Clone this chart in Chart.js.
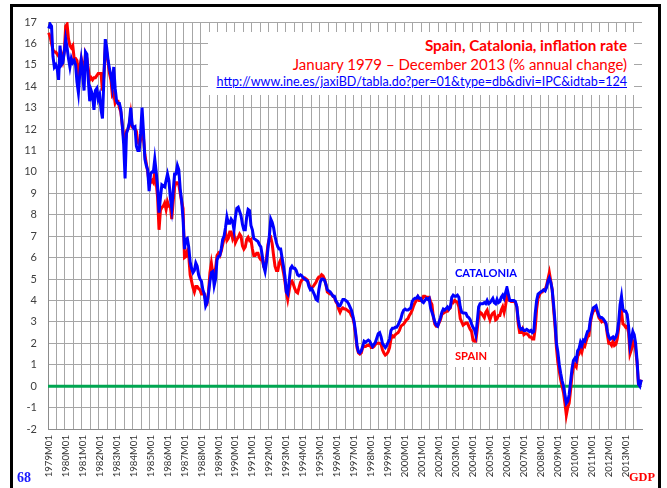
<!DOCTYPE html>
<html>
<head>
<meta charset="utf-8">
<title>Spain, Catalonia, inflation rate</title>
<script src="https://cdn.jsdelivr.net/npm/chart.js@4.4.1/dist/chart.umd.min.js"></script>
<style>
  html, body { margin: 0; padding: 0; background: #fff; }
  #page { position: relative; width: 667px; height: 488px; overflow: hidden; background: #fff; }
  #grafica { position: absolute; left: 0; top: 0; }
  #marco { position: absolute; left: 10px; top: 4px; width: 645px; height: 520px; border: 3px solid #000; }
  .caja { position: absolute; background: #fff; }
  .txt { position: absolute; top: 0; left: 0; white-space: nowrap; line-height: 1; font-family: Lato, "Open Sans", sans-serif; }
  .serif { font-family: "Liberation Serif", "DejaVu Serif", serif; font-weight: 700; }
</style>
</head>
<body>
<div id="page">
  <canvas id="grafica" width="667" height="488"></canvas>
  <div id="marco"></div>

  <!-- cuadro del titulo y etiquetas de las series -->
  <div class="caja" style="left:208px;top:32px;width:426px;height:63px"></div>
  <div class="caja" style="left:448px;top:263px;width:75px;height:23px"></div>
  <div class="caja" style="left:448px;top:347px;width:46px;height:20px"></div>

  <div class="txt" data-right="627" data-base="51" data-width="202" style="font-size:16px;font-weight:700;color:#ff0000">Spain, Catalonia, inflation rate</div>
  <div class="txt" data-right="627" data-base="70" data-width="334" style="font-size:16px;color:#ff0000">January 1979 – December 2013 (% annual change)</div>
  <div class="txt" data-right="627" data-base="86" data-width="410" style="font-size:13px;color:#0000ff;text-decoration:underline">http://www.ine.es/jaxiBD/tabla.do?per=01&amp;type=db&amp;divi=IPC&amp;idtab=124</div>
  <div class="txt" data-left="455" data-base="277" data-width="62" style="font-size:12px;font-weight:700;color:#0000ff">CATALONIA</div>
  <div class="txt" data-left="455" data-base="360" data-width="32" style="font-size:12px;font-weight:700;color:#ff0000">SPAIN</div>
  <div class="txt serif" data-left="17" data-base="482" data-width="14" style="font-size:11px;color:#1a1aff">68</div>
  <div class="txt serif" data-left="629" data-base="481" data-width="26" style="font-size:11px;color:#ff0000">GDP</div>
</div>

<script>
// IPC, tasa de variacion anual (%), enero 1979 - diciembre 2013
const firstYear = 1979;
const lastYear = 2013;

// Espana, un renglon por anio (ene..dic)
const spain = [
  16.5, 16.3, 16.0, 15.7, 15.6, 15.6, 15.5, 15.4, 15.3, 15.5, 15.2, 15.6,   // 1979
  16.8, 16.9, 16.2, 15.9, 15.8, 15.9, 15.3, 15.3, 15.2, 14.6, 14.9, 15.3,   // 1980
  15.0, 14.6, 15.5, 15.3, 14.8, 14.3, 14.4, 14.3, 14.4, 14.4, 14.5, 14.6,   // 1981
  14.6, 14.6, 13.8, 14.5, 15.8, 15.6, 15.1, 14.6, 14.3, 13.6, 13.7, 13.2,   // 1982
  13.3, 13.3, 13.0, 12.8, 12.2, 11.6, 11.3, 11.9, 12.0, 12.2, 12.7, 12.1,   // 1983
  12.1, 12.0, 11.9, 11.4, 11.3, 11.5, 12.0, 11.6, 10.8, 10.4, 10.0, 9.5,    // 1984
  9.5, 9.6, 9.5, 10.0, 9.5, 8.8, 7.3, 8.2, 8.35, 8.4, 8.55, 8.25,           // 1985
  8.6, 8.4, 8.4, 7.8, 8.6, 9.3, 9.5, 9.5, 9.4, 9.0, 8.6, 8.3,               // 1986
  6.0, 6.05, 6.3, 6.1, 5.2, 4.9, 4.6, 4.4, 4.65, 4.65, 4.55, 4.5,           // 1987
  4.3, 4.3, 4.3, 4.0, 3.9, 4.4, 5.3, 5.75, 5.3, 5.2, 5.5, 6.1,              // 1988
  6.2, 6.1, 6.3, 6.6, 6.9, 7.2, 6.8, 6.9, 7.2, 7.2, 6.9, 7.1,               // 1989
  6.7, 6.85, 6.95, 7.1, 7.0, 6.55, 6.4, 6.5, 6.85, 6.95, 6.8, 6.85,         // 1990
  6.4, 6.1, 6.1, 6.2, 6.2, 6.0, 5.9, 5.9, 5.6, 5.6, 6.0, 6.6,               // 1991
  6.9, 6.95, 6.65, 6.1, 5.6, 5.4, 5.4, 5.75, 5.9, 5.65, 5.3, 4.9,          // 1992
  4.4, 4.05, 4.45, 4.85, 4.9, 4.75, 4.55, 4.4, 4.35, 4.6, 4.85, 4.95,       // 1993
  5.0, 5.05, 5.0, 4.95, 4.75, 4.6, 4.6, 4.65, 4.75, 4.85, 5.0, 5.1,         // 1994
  5.1, 5.2, 5.15, 5.0, 4.75, 4.4, 4.35, 4.3, 4.3, 4.2, 4.15, 3.95,          // 1995
  3.85, 3.6, 3.45, 3.6, 3.65, 3.6, 3.6, 3.55, 3.5, 3.45, 3.3, 3.2,          // 1996
  2.9, 2.4, 1.8, 1.55, 1.5, 1.55, 1.8, 1.85, 1.85, 1.9, 1.9, 1.95,          // 1997
  1.8, 1.8, 1.85, 1.95, 2.0, 2.0, 2.0, 1.95, 1.7, 1.55, 1.45, 1.5,          // 1998
  1.6, 1.8, 2.2, 2.35, 2.3, 2.4, 2.45, 2.5, 2.6, 2.8, 2.85, 2.9,            // 1999
  3.0, 3.1, 3.15, 3.3, 3.4, 3.55, 3.75, 3.9, 4.0, 4.15, 4.0, 4.0,           // 2000
  4.05, 4.2, 4.2, 4.15, 4.15, 4.15, 3.95, 3.8, 3.2, 2.9, 2.8, 2.8,          // 2001
  2.95, 3.1, 3.35, 3.4, 3.45, 3.5, 3.5, 3.6, 3.65, 3.95, 3.9, 4.0,          // 2002
  3.95, 3.9, 3.7, 3.15, 3.0, 2.85, 2.9, 2.95, 2.95, 2.8, 2.65, 2.55,        // 2003
  2.15, 2.1, 2.1, 2.65, 3.25, 3.45, 3.4, 3.3, 3.2, 3.45, 3.55, 3.3,         // 2004
  3.1, 3.3, 3.4, 3.45, 3.1, 3.15, 3.3, 3.3, 3.55, 3.7, 3.45, 3.75,          // 2005
  4.2, 4.05, 4.0, 3.95, 3.95, 3.95, 3.9, 3.7, 2.9, 2.5, 2.5, 2.65,          // 2006
  2.4, 2.45, 2.45, 2.4, 2.3, 2.3, 2.2, 2.2, 2.7, 3.6, 4.1, 4.25,            // 2007
  4.4, 4.4, 4.5, 4.5, 4.7, 5.0, 5.3, 4.9, 4.5, 3.6, 2.8, 1.8,               // 2008
  1.1, 0.7, 0.3, 0.0, -0.3, -0.8, -1.35, -1.0, -0.8, -0.2, 0.5, 0.9,        // 2009
  1.0, 0.9, 1.4, 1.5, 1.8, 1.6, 1.9, 1.85, 2.1, 2.3, 2.35, 2.95,            // 2010
  3.3, 3.5, 3.55, 3.6, 3.45, 3.2, 3.1, 3.0, 3.05, 3.0, 2.9, 2.4,            // 2011
  2.0, 2.0, 1.9, 2.1, 1.9, 1.95, 2.2, 2.7, 3.4, 3.5, 2.9, 2.85,             // 2012
  2.75, 2.8, 2.5, 1.5, 1.7, 2.1, 2.0, 1.7, 1.1, 0.1, 0.1, 0.3               // 2013
];

// Cataluna
const catalonia = [
  16.7, 16.9, 16.8, 15.4, 14.9, 15.0, 14.8, 14.3, 15.9, 15.0, 15.1, 15.6,   // 1979
  16.2, 15.8, 15.3, 14.9, 15.3, 15.1, 15.2, 15.0, 14.2, 13.7, 14.6, 15.2,   // 1980
  14.6, 13.8, 15.6, 15.5, 14.3, 13.3, 13.8, 13.6, 12.9, 13.8, 13.9, 13.4,   // 1981
  13.6, 12.9, 12.5, 14.3, 16.2, 15.8, 15.2, 14.8, 14.5, 14.0, 14.9, 13.9,   // 1982
  13.3, 13.2, 13.2, 12.9, 12.2, 11.3, 9.7, 11.8, 12.0, 12.3, 13.0, 12.2,    // 1983
  12.05, 12.1, 11.2, 11.0, 11.0, 11.8, 13.0, 11.9, 10.6, 10.3, 10.1, 9.1,   // 1984
  9.9, 10.0, 10.0, 10.6, 10.0, 9.3, 8.1, 8.8, 9.4, 9.35, 9.3, 9.6,          // 1985
  9.9, 9.6, 8.8, 8.3, 9.1, 9.9, 9.9, 10.3, 10.1, 9.2, 8.65, 7.8,            // 1986
  6.4, 6.85, 6.9, 6.5, 5.8, 5.5, 5.3, 5.4, 5.75, 5.6, 5.2, 5.0,             // 1987
  4.9, 4.5, 4.3, 3.75, 3.9, 4.35, 4.9, 5.3, 5.35, 4.7, 5.0, 5.9,            // 1988
  6.05, 6.1, 6.4, 6.85, 7.0, 7.4, 7.9, 7.6, 7.6, 7.8, 7.7, 7.3,             // 1989
  7.9, 8.3, 8.35, 8.15, 7.95, 7.55, 7.3, 7.3, 7.9, 8.25, 8.2, 7.5,          // 1990
  7.3, 6.9, 6.85, 6.8, 6.75, 6.6, 6.5, 6.1, 5.6, 5.35, 5.8, 6.4,            // 1991
  7.0, 7.8, 7.65, 7.4, 7.0, 6.7, 6.5, 6.4, 6.4, 6.0, 5.6, 5.15,             // 1992
  4.4, 4.3, 4.9, 5.5, 5.6, 5.5, 5.5, 5.4, 5.2, 5.15, 5.2, 5.15,             // 1993
  5.05, 5.0, 4.95, 4.9, 4.65, 4.5, 4.55, 4.4, 4.25, 4.05, 4.0, 4.5,         // 1994
  4.85, 5.0, 5.0, 4.95, 4.75, 4.5, 4.45, 4.4, 4.3, 4.2, 4.2, 4.0,           // 1995
  3.9, 3.75, 3.75, 3.9, 4.05, 4.05, 4.0, 3.95, 3.85, 3.7, 3.55, 3.3,        // 1996
  3.0, 2.5, 1.9, 1.6, 1.55, 1.65, 1.85, 2.1, 2.05, 2.1, 2.15, 2.1,          // 1997
  1.95, 1.85, 1.95, 2.05, 2.25, 2.45, 2.5, 2.3, 2.0, 1.9, 1.8, 1.9,         // 1998
  2.05, 2.2, 2.6, 2.7, 2.7, 2.75, 2.75, 2.85, 3.0, 3.15, 3.4, 3.55,         // 1999
  3.6, 3.55, 3.55, 3.6, 3.65, 3.95, 4.05, 4.1, 4.1, 4.2, 4.1, 4.1,          // 2000
  3.95, 3.9, 4.0, 4.1, 4.05, 4.1, 3.65, 3.45, 3.25, 3.0, 2.85, 2.8,         // 2001
  3.0, 3.2, 3.45, 3.6, 3.55, 3.62, 3.7, 3.6, 3.7, 4.15, 4.25, 4.2,          // 2002
  4.2, 4.25, 4.15, 3.7, 3.45, 3.42, 3.42, 3.4, 3.25, 3.2, 3.1, 2.9,         // 2003
  2.75, 2.65, 2.4, 3.0, 3.7, 3.85, 3.85, 3.85, 3.9, 3.85, 4.0, 3.85,        // 2004
  3.9, 4.0, 4.1, 3.9, 3.85, 4.05, 3.9, 3.95, 4.15, 4.25, 4.1, 4.35,         // 2005
  4.6, 4.3, 4.0, 4.0, 4.0, 4.0, 3.95, 3.7, 3.1, 2.75, 2.65, 2.7,            // 2006
  2.6, 2.6, 2.65, 2.6, 2.55, 2.6, 2.5, 2.55, 3.4, 4.0, 4.3, 4.35,           // 2007
  4.4, 4.45, 4.5, 4.45, 4.6, 4.9, 5.05, 4.85, 4.5, 3.8, 3.0, 2.0,           // 2008
  1.6, 1.0, 0.6, 0.25, 0.0, -0.4, -0.8, -0.7, -0.4, 0.2, 0.8, 1.2,          // 2009
  1.3, 1.2, 1.65, 1.75, 2.05, 1.9, 2.15, 2.1, 2.35, 2.55, 2.6, 3.1,         // 2010
  3.4, 3.65, 3.7, 3.75, 3.5, 3.3, 3.2, 3.2, 3.15, 3.05, 2.95, 2.55,         // 2011
  2.3, 2.2, 2.25, 2.3, 2.2, 2.3, 2.5, 3.0, 3.8, 4.2, 3.6, 3.5,              // 2012
  3.5, 3.35, 2.8, 1.9, 2.2, 2.55, 2.4, 2.0, 1.2, 0.1, 0.0, 0.3              // 2013
];

// eje vertical
const yMin = -2;
const yMax = 17;

// etiquetas mensuales 1979M01 ... 2013M12
const meses = [];
for (let a = firstYear; a <= lastYear; a++) {
  for (let m = 1; m <= 12; m++) meses.push(a + 'M' + String(m).padStart(2, '0'));
}

const grisRejilla = '#a6a6a6';

// linea verde del cero, por debajo de las series
const lineaCero = {
  id: 'lineaCero',
  beforeDatasetsDraw(chart) {
    const { ctx, chartArea: a, scales: { y } } = chart;
    const py = y.getPixelForValue(0);
    ctx.save();
    ctx.strokeStyle = '#00a651';
    ctx.lineWidth = 3;
    ctx.beginPath();
    ctx.moveTo(a.left, py);
    ctx.lineTo(a.right - 3, py);
    ctx.stroke();
    ctx.restore();
  }
};

new Chart(document.getElementById('grafica'), {
  type: 'line',
  data: {
    labels: meses,
    datasets: [
      // Cataluna va primero para que quede encima
      { label: 'CATALONIA', data: catalonia, borderColor: '#0000ff', borderWidth: 3, pointRadius: 0, tension: 0 },
      { label: 'SPAIN', data: spain, borderColor: '#ff0000', borderWidth: 3, pointRadius: 0, tension: 0 }
    ]
  },
  options: {
    responsive: false,
    animation: false,
    devicePixelRatio: 1,
    layout: { padding: { top: 22, right: 25, left: 0, bottom: 0 } },
    plugins: { legend: { display: false }, tooltip: { enabled: false } },
    scales: {
      x: {
        offset: true,
        grid: {
          offset: true,
          drawTicks: false,
          color: c => (c.index % 6 === 0 ? grisRejilla : 'rgba(0,0,0,0)')
        },
        border: { color: '#8c8c8c' },
        ticks: {
          autoSkip: false,
          minRotation: 90,
          maxRotation: 90,
          padding: 6,
          color: '#333333',
          font: { family: 'Lato', size: 9.6 },
          callback: (v, i) => (i % 12 === 0 ? meses[i] : '')
        },
        afterFit: s => { s.height = 59; }
      },
      y: {
        min: yMin,
        max: yMax,
        ticks: { stepSize: 1, padding: 11, color: '#404040', font: { family: 'Lato', size: 11 } },
        grid: { drawTicks: false, color: grisRejilla },
        border: { color: '#8c8c8c' },
        afterFit: s => { s.width = 48; }
      }
    }
  },
  plugins: [lineaCero]
});

// ajusta tamano y coloca cada texto sobre su linea base
function colocar(el) {
  el.style.top = '0px';
  el.style.left = '0px';
  const fs = parseFloat(getComputedStyle(el).fontSize);
  const w = el.getBoundingClientRect().width;
  if (el.dataset.width) el.style.fontSize = (fs * el.dataset.width / w).toFixed(2) + 'px';
  const w2 = el.getBoundingClientRect().width;
  el.style.left = (el.dataset.right ? el.dataset.right - w2 : +el.dataset.left) + 'px';
  const marca = document.createElement('span');
  marca.style.cssText = 'display:inline-block;width:0;height:0';
  el.appendChild(marca);
  const base = marca.getBoundingClientRect().bottom;
  marca.remove();
  el.style.top = (el.dataset.base - base) + 'px';
}
const textos = document.querySelectorAll('.txt');
textos.forEach(colocar);
document.fonts.ready.then(() => textos.forEach(colocar));
</script>
</body>
</html>
